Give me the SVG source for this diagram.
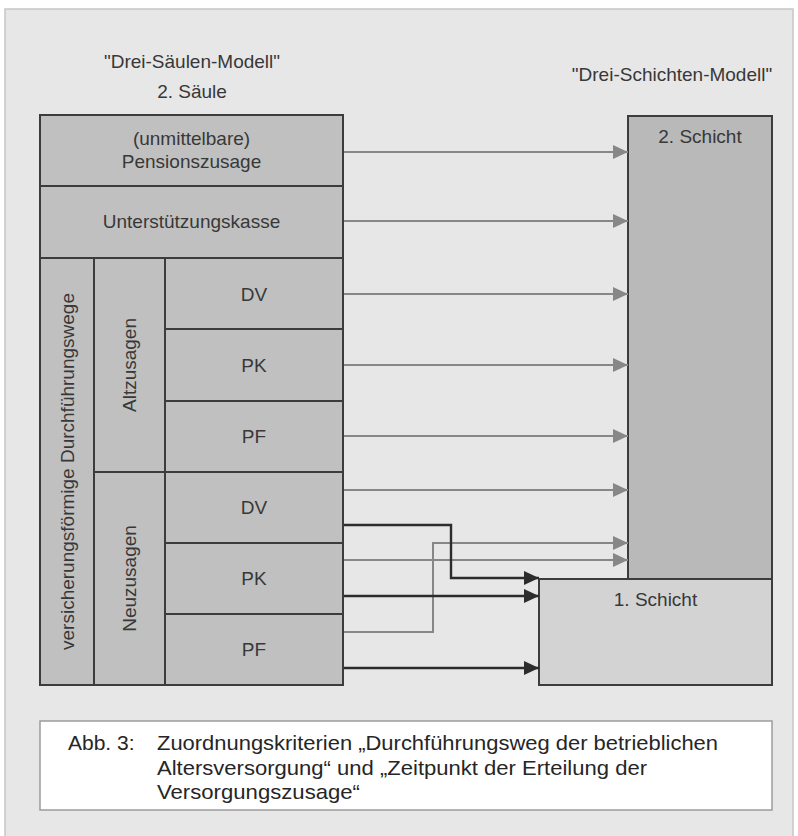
<svg xmlns="http://www.w3.org/2000/svg" width="798" height="836" viewBox="0 0 798 836">
<style>
text{font-family:"Liberation Sans",Arial,sans-serif;fill:#383838;}
.lbl{font-size:19px;text-anchor:middle;}
.cap{font-size:21px;fill:#262626;}
.box{fill:#c0c0c0;stroke:#3c3c3c;stroke-width:2;}
.gr{fill:none;stroke:#878787;stroke-width:2;}
.bk{fill:none;stroke:#2c2c2c;stroke-width:2.4;}
</style>
<defs>
<marker id="ag" viewBox="0 0 15 14" refX="15" refY="7" markerWidth="15" markerHeight="14" markerUnits="userSpaceOnUse" orient="auto">
<path d="M0,0 L15,7 L0,14 Z" fill="#878787"/>
</marker>
<marker id="ab" viewBox="0 0 15 14" refX="15" refY="7" markerWidth="15" markerHeight="14" markerUnits="userSpaceOnUse" orient="auto">
<path d="M0,0 L15,7 L0,14 Z" fill="#2c2c2c"/>
</marker>
</defs>
<rect x="0" y="0" width="798" height="836" fill="#ffffff"/>
<rect x="5" y="9" width="788" height="830" fill="#e7e7e7" stroke="#c6c6c6" stroke-width="1.5"/>

<g id="titles">
<text class="lbl" x="192" y="68">"Drei-Säulen-Modell"</text>
<text class="lbl" x="192" y="98">2. Säule</text>
<text class="lbl" x="672" y="81">"Drei-Schichten-Modell"</text>
</g>

<g id="pension">
<rect class="box" x="40" y="115" width="303" height="71"/>
<text class="lbl" x="191.5" y="145">(unmittelbare)</text>
<text class="lbl" x="191.5" y="168">Pensionszusage</text>
</g>
<g id="ukasse">
<rect class="box" x="40" y="186" width="303" height="72"/>
<text class="lbl" x="191.5" y="228">Unterstützungskasse</text>
</g>
<g id="versicherungsfoermig">
<rect class="box" x="40" y="258" width="54" height="427"/>
<text class="lbl" transform="translate(67.5,471.5) rotate(-90)" x="0" y="6.7">versicherungsförmige Durchführungswege</text>
</g>
<g id="altzusagen">
<rect class="box" x="94" y="258" width="71" height="214"/>
<text class="lbl" transform="translate(129.5,365) rotate(-90)" x="0" y="6.7">Altzusagen</text>
</g>
<g id="neuzusagen">
<rect class="box" x="94" y="472" width="71" height="213"/>
<text class="lbl" transform="translate(129.5,578.5) rotate(-90)" x="0" y="6.7">Neuzusagen</text>
</g>
<g id="alt-dv">
<rect class="box" x="165" y="258" width="178" height="71"/>
<text class="lbl" x="254" y="300.5">DV</text>
</g>
<g id="alt-pk">
<rect class="box" x="165" y="329" width="178" height="72"/>
<text class="lbl" x="254" y="371.7">PK</text>
</g>
<g id="alt-pf">
<rect class="box" x="165" y="401" width="178" height="71"/>
<text class="lbl" x="254" y="443">PF</text>
</g>
<g id="neu-dv">
<rect class="box" x="165" y="472" width="178" height="71"/>
<text class="lbl" x="254" y="514">DV</text>
</g>
<g id="neu-pk">
<rect class="box" x="165" y="543" width="178" height="71"/>
<text class="lbl" x="254" y="585">PK</text>
</g>
<g id="neu-pf">
<rect class="box" x="165" y="614" width="178" height="71"/>
<text class="lbl" x="254" y="656">PF</text>
</g>

<g id="schicht2">
<rect class="box" x="628" y="116" width="144" height="463" style="fill:#b9b9b9"/>
<text class="lbl" x="700" y="143">2. Schicht</text>
</g>
<g id="schicht1">
<rect class="box" x="539" y="579" width="233" height="106" style="fill:#d3d3d3"/>
<text class="lbl" x="655.5" y="606">1. Schicht</text>
</g>

<g id="connectors">
<path class="gr" d="M344,152 H628" marker-end="url(#ag)"/>
<path class="gr" d="M344,221 H628" marker-end="url(#ag)"/>
<path class="gr" d="M344,294 H628" marker-end="url(#ag)"/>
<path class="gr" d="M344,365 H628" marker-end="url(#ag)"/>
<path class="gr" d="M344,436 H628" marker-end="url(#ag)"/>
<path class="gr" d="M344,490 H628" marker-end="url(#ag)"/>
<path class="gr" d="M344,560 H628" marker-end="url(#ag)"/>
<path class="gr" d="M344,632 H433 V543 H628" marker-end="url(#ag)"/>
<path class="bk" d="M344,525 H451 V578 H539" marker-end="url(#ab)"/>
<path class="bk" d="M344,596 H539" marker-end="url(#ab)"/>
<path class="bk" d="M344,668 H539" marker-end="url(#ab)"/>
</g>

<g id="caption">
<rect x="40" y="721" width="732" height="89" fill="#ffffff" stroke="#9c9c9c" stroke-width="1.5"/>
<text class="cap" x="68" y="750">Abb. 3:</text>
<text class="cap" x="157" y="750" textLength="561" lengthAdjust="spacingAndGlyphs">Zuordnungskriterien „Durchführungsweg der betrieblichen</text>
<text class="cap" x="157" y="775" textLength="490" lengthAdjust="spacingAndGlyphs">Altersversorgung“ und „Zeitpunkt der Erteilung der</text>
<text class="cap" x="157" y="799" textLength="203" lengthAdjust="spacingAndGlyphs">Versorgungszusage“</text>
</g>
</svg>
